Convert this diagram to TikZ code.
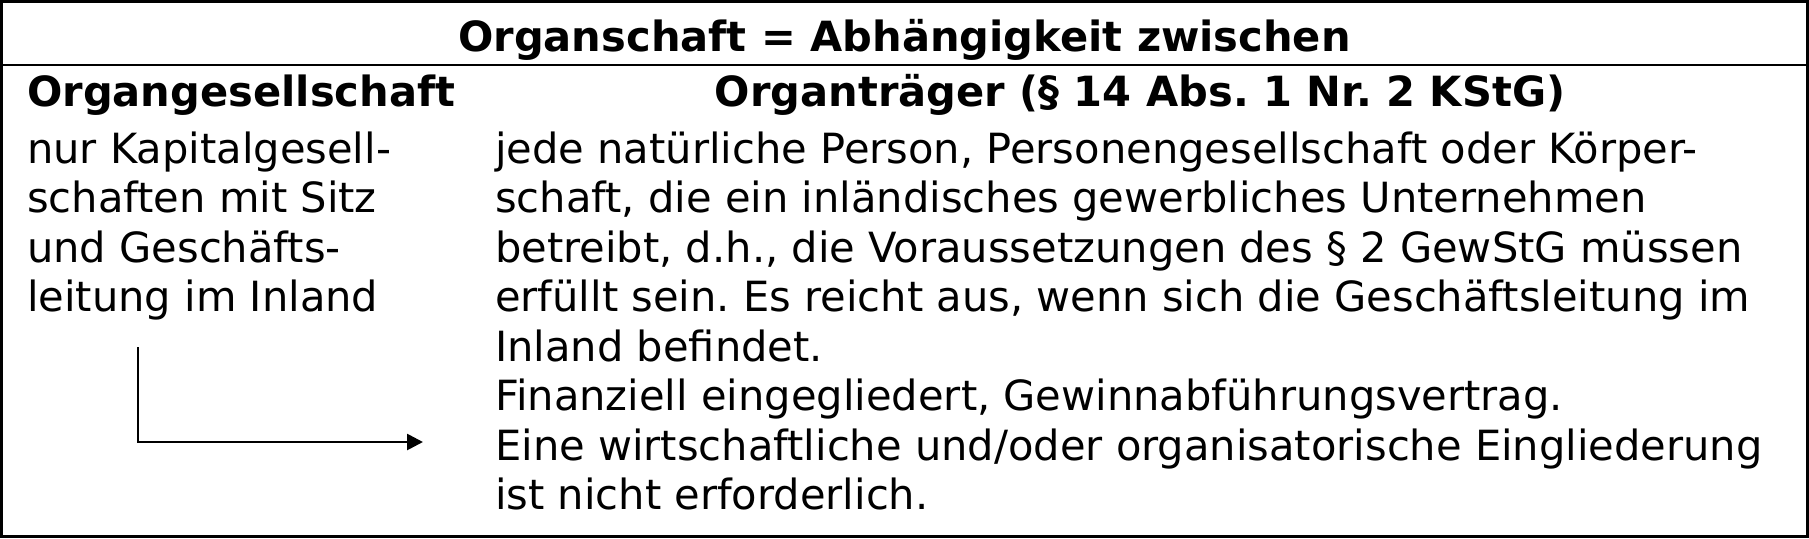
\documentclass[tikz,border=0pt]{standalone}
\usepackage{fontspec}
\setmainfont{DejaVu Sans}
\usetikzlibrary{arrows.meta,positioning}

\begin{document}
\frenchspacing
\begin{tikzpicture}[x=1pt,y=-1pt,
    zeile/.style={anchor=base west,inner sep=0pt,font=\fontsize{41.6}{49.5}\selectfont},
    kopf/.style={anchor=base,inner sep=0pt,font=\fontsize{41.6}{49.5}\selectfont\bfseries},
    rahmen/.style={line width=2.5pt},
    pfeil/.style={line width=2.7pt,-{Triangle[length=16pt,width=16pt]}}]
    \useasboundingbox (0,0) rectangle (1809,538);
    \draw[rahmen] (1.5,1.5) rectangle (1807.5,536.5);
    \draw[rahmen] (1.5,65) -- (1807.5,65);
    \node[kopf] (titel) at (904.5,51) {Organschaft = Abhängigkeit zwischen};
    \node[kopf,anchor=base west] (ogkopf) at (27,106) {Organgesellschaft};
    \node[kopf] (otkopf) at (1140,106) {Organträger (§ 14 Abs. 1 Nr. 2 KStG)};
    \foreach \txt [count=\i] in {nur Kapitalgesell-, schaften mit Sitz,
        und Geschäfts-, leitung im Inland}
      \node[zeile] (links\i) at (27,{163+(\i-1)*49.5}) {\txt};
    \foreach \txt [count=\i] in {
        {jede natürliche Person, Personengesellschaft oder Körper-},
        {schaft, die ein inländisches gewerbliches Unternehmen},
        {betreibt, d.h., die Voraussetzungen des § 2 GewStG müssen},
        {erfüllt sein. Es reicht aus, wenn sich die Geschäftsleitung im},
        {Inland befindet.},
        {Finanziell eingegliedert, Gewinnabführungsvertrag.},
        {Eine wirtschaftliche und/oder organisatorische Eingliederung},
        {ist nicht erforderlich.}}
      \node[zeile] (rechts\i) at (495,{163+(\i-1)*49.5}) {\txt};
    \coordinate (pfeilstart) at (138,347);
    \coordinate (pfeilende) at (423,442);
    \draw[pfeil] (pfeilstart) |- (pfeilende);
\end{tikzpicture}
\end{document}
